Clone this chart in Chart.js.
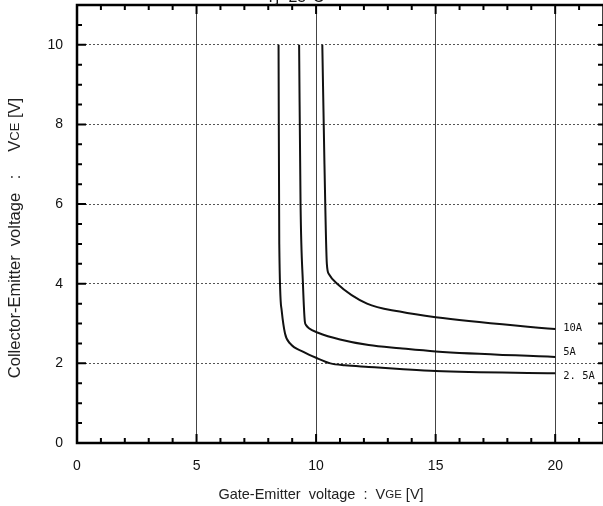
<!DOCTYPE html>
<html>
<head>
<meta charset="utf-8">
<script src="https://cdn.jsdelivr.net/npm/chart.js@4"></script>
<style>
  html, body { margin: 0; padding: 0; background: #fff; }
  canvas { display: block; }
</style>
</head>
<body>
<canvas id="grafico" width="603" height="506"></canvas>
<script>
// VCE vs VGE curves, one array pair per collector current
var vge25 = [8.43, 8.46, 8.56, 8.70, 8.91, 9.47, 10.0, 10.6, 11.2, 12.2, 13.5, 15, 20];
var vce25 = [10, 5.0, 3.33, 2.75, 2.5, 2.29, 2.14, 2.0, 1.95, 1.91, 1.86, 1.81, 1.75];

var vge5 = [9.29, 9.35, 9.45, 9.53, 9.58, 9.7, 10.08, 11.0, 12.2, 13.5, 15, 20];
var vce5 = [10, 6, 4, 3.05, 2.96, 2.88, 2.77, 2.6, 2.46, 2.38, 2.3, 2.16];

var vge10 = [10.26, 10.35, 10.45, 10.54, 10.88, 12.13, 13.5, 15, 20];
var vce10 = [10, 7, 4.5, 4.24, 4.0, 3.5, 3.3, 3.16, 2.86];

var correntes = ['2. 5A', '5A', '10A'];
var ticksX = [0, 5, 10, 15, 20];
var ticksY = [0, 2, 4, 6, 8, 10];

function pontos(xs, ys){
    var arr = [];
    for(var i = 0; i < xs.length; i++){
        arr.push({x: xs[i], y: ys[i]});
    }
    return arr;
}

function serie(xs, ys, nome){
    return {
        label: nome,
        data: pontos(xs, ys),
        showLine: true,
        borderColor: '#111',
        borderWidth: 2,
        pointRadius: 0,
        cubicInterpolationMode: 'monotone'
    };
}

// frame, inward ticks, titles and current labels
var moldura = {
    id: 'moldura',
    afterDraw: function(chart){
        var ctx = chart.ctx;
        var a = chart.chartArea;
        var sx = chart.scales.x;
        var sy = chart.scales.y;
        ctx.save();
        ctx.strokeStyle = '#000';

        // minor/major ticks along the axes
        ctx.lineWidth = 2;
        for(var v = 1; v <= 21; v++){
            var px = sx.getPixelForValue(v);
            var len = (v % 5 === 0) ? 9 : 5;
            ctx.beginPath();
            ctx.moveTo(px, a.bottom); ctx.lineTo(px, a.bottom - len);
            ctx.moveTo(px, a.top); ctx.lineTo(px, a.top + len);
            ctx.stroke();
        }
        for(var w = 0.5; w <= 10.5; w += 0.5){
            var py = sy.getPixelForValue(w);
            var l2 = (w % 2 === 0) ? 9 : 5;
            ctx.beginPath();
            ctx.moveTo(a.left, py); ctx.lineTo(a.left + l2, py);
            ctx.moveTo(a.right, py); ctx.lineTo(a.right - 5, py);
            ctx.stroke();
        }

        // frame
        ctx.lineWidth = 2.5;
        ctx.beginPath();
        ctx.moveTo(a.right, a.top);
        ctx.lineTo(a.left, a.top);
        ctx.lineTo(a.left, a.bottom);
        ctx.lineTo(a.right, a.bottom);
        ctx.stroke();
        ctx.lineWidth = 1.5;
        ctx.beginPath();
        ctx.moveTo(a.right, a.top); ctx.lineTo(a.right, a.bottom);
        ctx.stroke();

        // current labels at the right end of each curve
        ctx.fillStyle = '#111';
        ctx.font = '10.5px "DejaVu Sans Mono"';
        ctx.textBaseline = 'middle';
        ctx.textAlign = 'left';
        var fins = [vce25[vce25.length - 1], vce5[vce5.length - 1], vce10[vce10.length - 1]];
        var desloc = [3, -5, -1];
        var xl = sx.getPixelForValue(20) + 8;
        for(var k = 0; k < correntes.length; k++){
            ctx.fillText(correntes[k], xl, sy.getPixelForValue(fins[k]) + desloc[k]);
        }

        // temperature caption, mostly above the canvas
        ctx.font = '16px "Liberation Sans"';
        ctx.textAlign = 'center';
        ctx.textBaseline = 'alphabetic';
        ctx.fillText('Tj=25°C', 295, 2);

        // axis titles with subscripts
        ctx.fillStyle = '#222';
        ctx.textAlign = 'left';
        ctx.textBaseline = 'middle';
        var partes = [['Gate-Emitter  voltage  :  V', 14.5], ['GE', 11.5], [' [V]', 14.5]];
        escreveTitulo(ctx, partes, 321, 495);

        ctx.save();
        ctx.translate(15, 238);
        ctx.rotate(-Math.PI / 2);
        var partesY = [['Collector-Emitter  voltage   :     V', 16.5], ['CE', 13], [' [V]', 16.5]];
        escreveTitulo(ctx, partesY, 0, 0);
        ctx.restore();

        ctx.restore();
    }
};

function escreveTitulo(ctx, partes, cx, cy){
    var total = 0;
    for(var i = 0; i < partes.length; i++){
        ctx.font = partes[i][1] + 'px "Liberation Sans"';
        total += ctx.measureText(partes[i][0]).width;
    }
    var x = cx - total / 2;
    for(var j = 0; j < partes.length; j++){
        ctx.font = partes[j][1] + 'px "Liberation Sans"';
        ctx.fillText(partes[j][0], x, cy);
        x += ctx.measureText(partes[j][0]).width;
    }
}

var $canvas = document.getElementById('grafico').getContext('2d');
var grafico = new Chart($canvas, {
    type: 'scatter',
    data: {
        datasets: [
            serie(vge25, vce25, correntes[0]),
            serie(vge5, vce5, correntes[1]),
            serie(vge10, vce10, correntes[2])
        ]
    },
    options: {
        responsive: false,
        animation: false,
        layout: { padding: { top: 5, right: 0, left: 0, bottom: 0 } },
        plugins: { legend: { display: false }, tooltip: { enabled: false } },
        scales: {
            x: {
                type: 'linear',
                min: 0,
                max: 22,
                afterBuildTicks: function(s){
                    s.ticks = ticksX.map(function(v){ return {value: v}; });
                },
                afterFit: function(s){
                    s.height = 63;
                    s.paddingLeft = 0;
                    s.paddingRight = 0;
                },
                ticks: {
                    color: '#111',
                    padding: 15,
                    maxRotation: 0,
                    font: { family: 'Liberation Sans', size: 14 }
                },
                grid: { color: '#444', lineWidth: 1, drawTicks: false },
                border: { display: false }
            },
            y: {
                type: 'linear',
                min: 0,
                max: 11,
                afterBuildTicks: function(s){
                    s.ticks = ticksY.map(function(v){ return {value: v}; });
                },
                afterFit: function(s){
                    s.width = 77;
                    s.paddingTop = 0;
                    s.paddingBottom = 0;
                },
                ticks: {
                    color: '#111',
                    padding: 14,
                    font: { family: 'Liberation Sans', size: 14 }
                },
                grid: { color: '#555', lineWidth: 1, drawTicks: false },
                border: { display: false, dash: [2, 2] }
            }
        }
    },
    plugins: [moldura]
});
</script>
</body>
</html>
